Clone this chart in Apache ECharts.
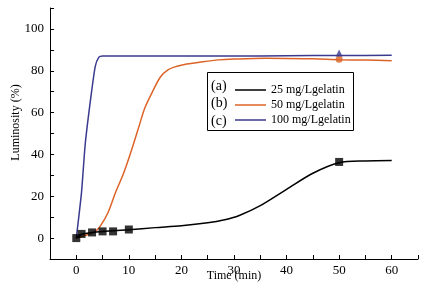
<!DOCTYPE html>
<html>
<head>
<meta charset="utf-8">
<script src="https://cdn.jsdelivr.net/npm/echarts@6/dist/echarts.min.js"></script>
<style>html,body{margin:0;padding:0;background:#fff}#c{width:426px;height:289px}</style>
</head>
<body>
<div id="c"></div>
<script>
// ---- data ----
var seriesNames = ['25 mg/Lgelatin', '50 mg/Lgelatin', '100 mg/Lgelatin'];
var legendTags = ['(a)', '(b)', '(c)'];
var curveA = [[0,0],[1,1.8],[3,2.7],[5,3.2],[7,3.5],[10,4],[15,5],[20,5.9],[25,7.3],[28,8.6],[31,10.8],[35,15.5],[40,23.3],[45,31],[50,36],[55,36.9],[60,37.1]];
var markersA = [[0,0],[1,2],[3,2.7],[5,3.2],[7,3.2],[10,4.1],[50,36.4]];
var curveB = [[0,0],[2,1.5],[3.5,3],[4.5,5.5],[6,12],[7.5,22],[9,31],[10.5,42],[12,54],[13,62],[14.5,70],[16,77],[17.5,80.5],[19,82],[21,83.2],[24,84.3],[27,85.2],[30,85.6],[36,86],[45,85.7],[50,85.3],[55,85.1],[60,84.8]];
var markersB = [[50,85.5]];
var curveC = [[0,0],[1,22],[1.7,45],[2.7,66],[3.6,82],[4.3,86.5],[5,87.1],[10,87.1],[20,87],[30,87],[40,87.2],[50,87.3],[60,87.4]];
var markersC = [[50,88.5]];
var xTicks = [0,10,20,30,40,50,60];
var yTicks = [0,20,40,60,80,100];

var colors = ['#000000', '#dc6428', '#3a3a8e'];
var font = 'Liberation Serif';

var chart = echarts.init(document.getElementById('c'));
chart.setOption({
  animation: false,
  backgroundColor: '#fff',
  grid: {left: 50, right: 8, top: 8, bottom: 30, containLabel: false, outerBoundsMode: 'none'},
  xAxis: {
    type: 'value', min: -5, max: 65, interval: 5,
    name: 'Time (min)', nameLocation: 'middle', nameGap: 11, nameMoveOverlap: false,
    nameTextStyle: {fontFamily: font, fontSize: 12, color: '#000'},
    axisLine: {show: true, onZero: false, lineStyle: {color: '#000', width: 1}},
    axisTick: {show: true, inside: true, length: 4, lineStyle: {color: '#000'}},
    axisLabel: {fontFamily: font, fontSize: 13, color: '#000', margin: 5,
      formatter: function (v) { return xTicks.indexOf(v) >= 0 ? String(v) : ''; }},
    splitLine: {show: false}
  },
  yAxis: {
    type: 'value', min: -10, max: 110, interval: 10,
    name: 'Luminosity (%)', nameLocation: 'middle', nameGap: 28, nameMoveOverlap: false,
    nameTextStyle: {fontFamily: font, fontSize: 12, color: '#000', padding: [0, 0, 0, 22]},
    axisLine: {show: true, onZero: false, lineStyle: {color: '#000', width: 1}},
    axisTick: {show: true, inside: true, length: 4, lineStyle: {color: '#000'}},
    axisLabel: {fontFamily: font, fontSize: 13, color: '#000', margin: 6,
      formatter: function (v) { return yTicks.indexOf(v) >= 0 ? String(v) : ''; }},
    splitLine: {show: false}
  },
  legend: {
    orient: 'vertical', left: 230, top: 79, itemGap: 3, itemWidth: 31, itemHeight: 1.5,
    icon: 'rect',
    data: seriesNames,
    textStyle: {fontFamily: font, fontSize: 12, color: '#000'},
    selectedMode: false
  },
  graphic: [
    {type: 'rect', shape: {x: 207.5, y: 72.5, width: 146, height: 58}, style: {fill: 'none', stroke: '#000', lineWidth: 1}, z: 100},
    {type: 'text', left: 211, top: 79, style: {text: legendTags[0], font: '14px "Liberation Serif"', fill: '#000'}, z: 100},
    {type: 'text', left: 211, top: 96, style: {text: legendTags[1], font: '14px "Liberation Serif"', fill: '#000'}, z: 100},
    {type: 'text', left: 211, top: 114, style: {text: legendTags[2], font: '14px "Liberation Serif"', fill: '#000'}, z: 100}
  ],
  series: [
    {name: seriesNames[0], type: 'line', data: curveA, smooth: 0.3, symbol: 'none', lineStyle: {color: colors[0], width: 1.5}, itemStyle: {color: colors[0]}, z: 3},
    {name: seriesNames[1], type: 'line', data: curveB, smooth: 0.3, symbol: 'none', lineStyle: {color: colors[1], width: 1.5}, itemStyle: {color: colors[1]}, z: 2},
    {name: seriesNames[2], type: 'line', data: curveC, smooth: 0.2, symbol: 'none', lineStyle: {color: colors[2], width: 1.5}, itemStyle: {color: colors[2]}, z: 2},
    {name: 'mA', type: 'scatter', data: markersA, symbol: 'rect', symbolSize: 8, itemStyle: {color: colors[0]}, z: 5},
    {name: 'mB', type: 'scatter', data: markersB, symbol: 'circle', symbolSize: 7, itemStyle: {color: colors[1]}, z: 4},
    {name: 'mC', type: 'scatter', data: markersC, symbol: 'triangle', symbolSize: 7, itemStyle: {color: colors[2]}, z: 5}
  ]
});
</script>
</body>
</html>
